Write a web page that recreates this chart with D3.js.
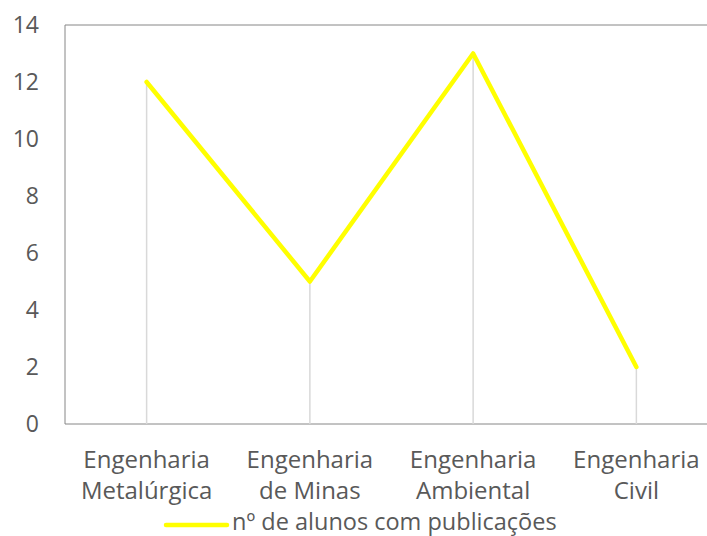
<!DOCTYPE html>
<html><head><meta charset="utf-8">
<script src="https://cdn.jsdelivr.net/npm/d3@7"></script>
<style>body{margin:0;background:#fff}svg{display:block}text{font-family:"Open Sans",sans-serif;fill:#595959}</style>
</head><body>
<script>
const categories = [["Engenharia","Metalúrgica"],["Engenharia","de Minas"],["Engenharia","Ambiental"],["Engenharia","Civil"]];
const values = [12, 5, 13, 2];
const yTicks = [0,2,4,6,8,10,12,14];
const seriesName = "nº de alunos com publicações";

(function(){
const W=707,H=536;
const svg=d3.select("body").append("svg").attr("width",W).attr("height",H);
const pl=65, pr=718, pt=25, pb=424;
const x=d3.scaleBand().domain(d3.range(categories.length)).range([pl,pr]);
const y=d3.scaleLinear().domain([0,14]).range([pb,pt]);

// frame
svg.append("line").attr("x1",pl).attr("x2",pr).attr("y1",pt).attr("y2",pt).attr("stroke","#868686").attr("stroke-width",1);
svg.append("line").attr("x1",pl).attr("x2",pl).attr("y1",pt).attr("y2",pb).attr("stroke","#868686").attr("stroke-width",1);
svg.append("line").attr("x1",pl).attr("x2",pr).attr("y1",pb).attr("y2",pb).attr("stroke","#868686").attr("stroke-width",1);

// drop lines
const cx=i=>x(i)+x.bandwidth()/2;
svg.selectAll(".drop").data(values).enter().append("line")
 .attr("x1",(d,i)=>cx(i)).attr("x2",(d,i)=>cx(i)).attr("y1",d=>y(d)).attr("y2",pb)
 .attr("stroke","#d9d9d9").attr("stroke-width",1.5);

// y ticks
svg.selectAll(".yt").data(yTicks).enter().append("text")
 .attr("x",39).attr("y",d=>y(d)+8).attr("text-anchor","end")
 .attr("font-size",23).text(d=>d);

// x labels
const xl=svg.selectAll(".xl").data(categories).enter().append("text")
 .attr("text-anchor","middle").attr("font-size",24);
xl.each(function(d,i){
  const t=d3.select(this);
  d.forEach((s,j)=>t.append("tspan").attr("x",cx(i)).attr("y",468+j*31).text(s));
});

// line
svg.append("path").datum(values)
 .attr("d",d3.line().x((d,i)=>cx(i)).y(d=>y(d)))
 .attr("fill","none").attr("stroke","#ffff00").attr("stroke-width",4.5).attr("stroke-linejoin","round").attr("stroke-linecap","round");

// legend
svg.append("line").attr("x1",166).attr("x2",227).attr("y1",525).attr("y2",525).attr("stroke","#ffff00").attr("stroke-width",4.5).attr("stroke-linecap","round");
svg.append("text").attr("x",232).attr("y",530).attr("font-size",23.5).text(seriesName);
})();
</script>
</body></html>
